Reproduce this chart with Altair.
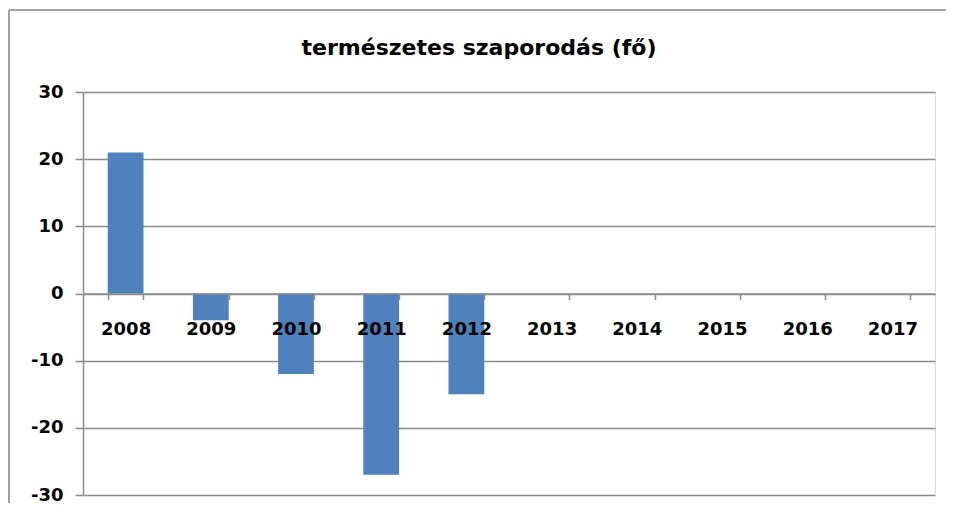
import altair as alt
import pandas as pd

years = ["2008", "2009", "2010", "2011", "2012", "2013", "2014", "2015", "2016", "2017"]
values = [21, -4, -12, -27, -15, None, None, None, None, None]
y_ticks = [-30, -20, -10, 0, 10, 20, 30]
title_text = "természetes szaporodás (fő)"

df = pd.DataFrame({"year": years, "value": values}).dropna()

W, H = 852, 403
FONT = "DejaVu Sans"

x_scale = alt.Scale(domain=years, paddingInner=0.58, paddingOuter=0.29)
y_scale = alt.Scale(domain=[-30, 30], nice=False)

bars = alt.Chart(df).mark_bar(color="#4F81BD").encode(
    x=alt.X("year:N", scale=x_scale, sort=years,
            axis=alt.Axis(title=None, labelAngle=0, grid=False, domain=True,
                          domainColor="#8c8c8c", domainWidth=1.5,
                          tickColor="#8c8c8c", tickWidth=1.5, tickSize=6,
                          tickBand="extent", labelPadding=21,
                          labelFont=FONT, labelFontSize=18, labelFontWeight="bold",
                          labelColor="black", offset=-H / 2, zindex=1)),
    y=alt.Y("value:Q", scale=y_scale,
            axis=alt.Axis(title=None, values=y_ticks, grid=True,
                          gridColor="#8c8c8c", gridWidth=1.5,
                          domainColor="#8c8c8c", domainWidth=1.5,
                          tickColor="#8c8c8c", tickWidth=1.5, tickSize=8,
                          labelPadding=12, labelFont=FONT, labelFontSize=18,
                          labelFontWeight="bold", labelColor="black",
                          labelExpr="'' + datum.value")),
)

frame_data = pd.DataFrame({"side": ["frame"]})
frame_left = alt.Chart(frame_data).mark_rule(color="#a0a0a0", strokeWidth=2, clip=False).encode(
    x=alt.value(-74), y=alt.value(-82), y2=alt.value(H + 20)
)
frame_top = alt.Chart(frame_data).mark_rule(color="#a0a0a0", strokeWidth=2, clip=False).encode(
    x=alt.value(-74), x2=alt.value(W + 30), y=alt.value(-82)
)

chart = alt.layer(frame_left, frame_top, bars).properties(
    width=W, height=H,
    title=alt.TitleParams(title_text, font=FONT, fontSize=22, fontWeight="bold",
                          color="black", anchor="middle", dx=-30, offset=-51),
    autosize=alt.AutoSizeParams(type="none"),
    padding={"left": 75, "top": 84, "right": 11, "bottom": 8},
).configure_view(stroke=None).configure(background="white")

chart.save("out.html", embed_options={"renderer": "svg", "actions": False})
